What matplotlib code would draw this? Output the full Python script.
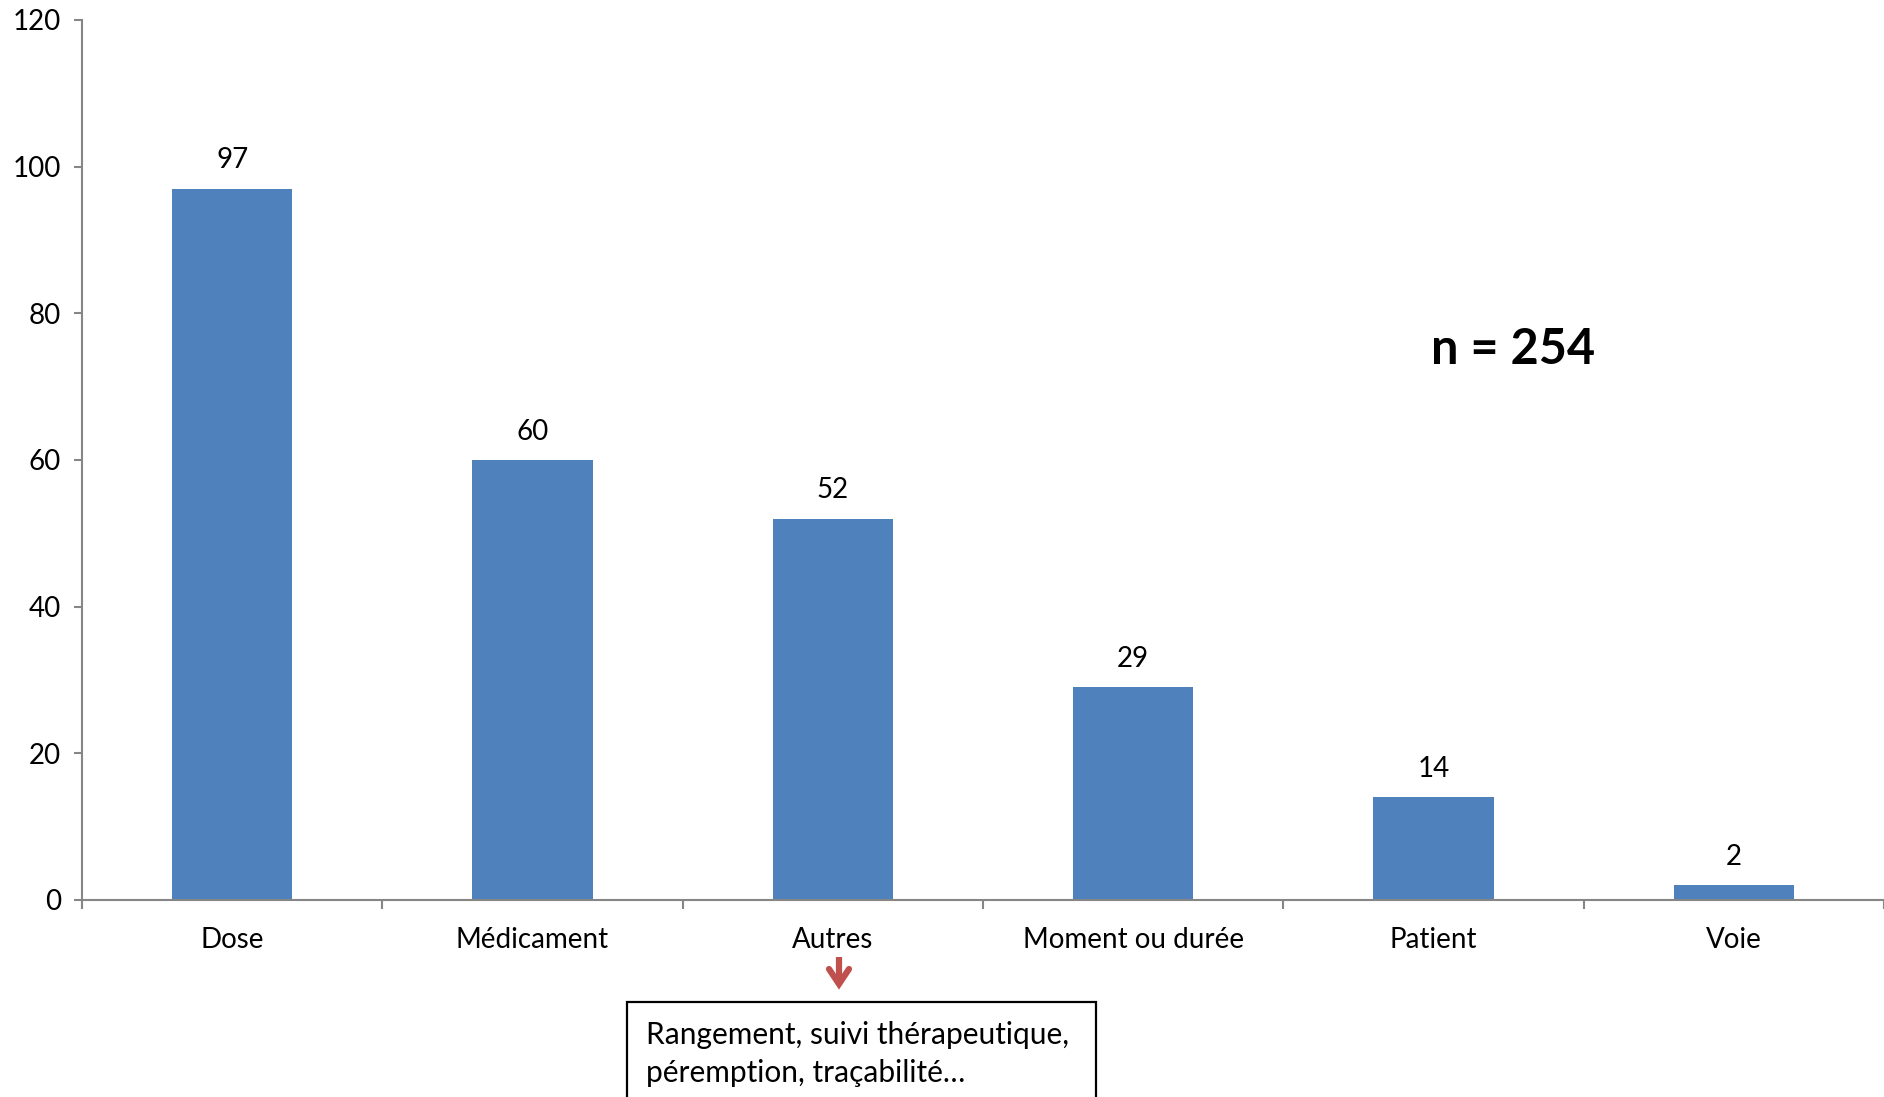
import matplotlib
matplotlib.use("Agg")
import matplotlib.pyplot as plt
from matplotlib.patches import Rectangle
from matplotlib.lines import Line2D

categories = ["Dose", "Médicament", "Autres", "Moment ou durée", "Patient", "Voie"]
values = [97, 60, 52, 29, 14, 2]
yticks = [0, 20, 40, 60, 80, 100, 120]
note_text = "Rangement, suivi thérapeutique,\npéremption, traçabilité…"
n_text = "n = 254"

plt.rcParams['font.family'] = ['Lato', 'DejaVu Sans']

W, H = 1884, 1097
fig = plt.figure(figsize=(W / 100, H / 100), dpi=100)
ax = fig.add_axes([82 / W, (H - 900) / H, (W - 82) / W, 880 / H])

x = list(range(len(categories)))
bars = ax.bar(x, values, width=0.4, color="#4F81BD", zorder=2)
ax.bar_label(bars, labels=[str(v) for v in values], padding=11, fontsize=20)

ax.set_xlim(-0.5, len(categories) - 0.5)
ax.set_ylim(0, 120)
ax.set_yticks(yticks)
ax.set_yticklabels([str(t) for t in yticks], fontsize=20)
ax.set_xticks(x)
ax.set_xticklabels(categories, fontsize=20)
ax.set_xticks([i - 0.5 for i in range(len(categories) + 1)], minor=True)

ax.tick_params(axis='x', which='major', length=0, pad=19.5)
ax.tick_params(axis='x', which='minor', length=6.5, width=1.5, color="#868686", direction='out')
ax.tick_params(axis='y', which='major', length=6, width=1.5, color="#868686", pad=9)

for s in ["top", "right"]:
    ax.spines[s].set_visible(False)
for s in ["left", "bottom"]:
    ax.spines[s].set_color("#868686")
    ax.spines[s].set_linewidth(1.5)

# n = 254
fig.text(1513 / W, 1 - 350 / H, n_text, fontsize=35, fontweight='bold',
         ha='center', va='center')

# red arrow under "Autres"
def fp(px, py):
    return px / W, 1 - py / H

red = "#C0504D"
sx, sy = zip(fp(839, 957), fp(839, 984))
fig.add_artist(Line2D(sx, sy, transform=fig.transFigure, color=red, lw=4.5,
                      solid_capstyle='butt'))
cx, cy = zip(fp(829, 969), fp(839, 984), fp(849, 969))
fig.add_artist(Line2D(cx, cy, transform=fig.transFigure, color=red, lw=4.5,
                      solid_capstyle='round', solid_joinstyle='miter'))

# note box
box = Rectangle((627 / W, -0.05), (1096 - 627) / W, (1 - 1002 / H) + 0.05,
                transform=fig.transFigure, fill=False, edgecolor='black', lw=1.6)
fig.patches.append(box)
fig.text(646 / W, 1 - 1054 / H, note_text, fontsize=21.5, ha='left', va='center',
         linespacing=1.45)

fig.savefig("out.png", dpi=100, facecolor='white')
